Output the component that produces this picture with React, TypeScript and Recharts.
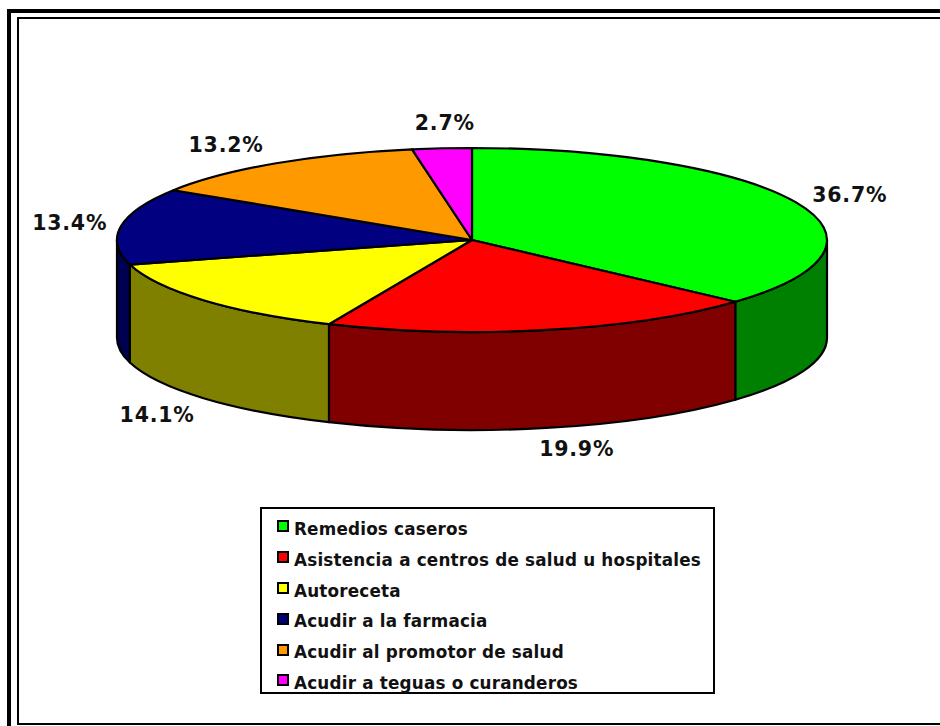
import React from "react";
import { PieChart, Pie, Legend } from "recharts";

const categories = [
  "Remedios caseros",
  "Asistencia a centros de salud u hospitales",
  "Autoreceta",
  "Acudir a la farmacia",
  "Acudir al promotor de salud",
  "Acudir a teguas o curanderos",
];
const values = [36.7, 19.9, 14.1, 13.4, 13.2, 2.7];
const topColors = ["#00FF00", "#FF0000", "#FFFF00", "#000080", "#FF9900", "#FF00FF"];
const wallColors = ["#008000", "#800000", "#808000", "#000050", "#804C00", "#800080"];
const labelNudges = [[-1.5, 0], [18, 1], [-1, 4], [8, 0], [-17, -2], [8, -5]];

const data = categories.map((name, i) => ({ name, value: values[i], fill: topColors[i], wall: wallColors[i], nudge: labelNudges[i] }));

const CX = 472;
const CY = 240;
const RX = 355;
const SQUASH = 92 / 355;
const DEPTH = 98;
const FONT = "'DejaVu Sans', Verdana, sans-serif";

// recharts angle (deg, counter-clockwise from 3 o'clock) -> point on the flattened rim
const rim = (cx: number, cy: number, r: number, a: number) => {
  const t = (a * Math.PI) / 180;
  return [cx + r * Math.cos(t), cy - r * SQUASH * Math.sin(t)];
};

const Slice3D = (props: any) => {
  const { cx, cy, outerRadius: r, startAngle, endAngle, fill, wall, payload } = props;
  const wallFill = wall ?? payload?.wall;
  const ry = r * SQUASH;
  const [x1, y1] = rim(cx, cy, r, startAngle);
  const [x2, y2] = rim(cx, cy, r, endAngle);
  const large = Math.abs(startAngle - endAngle) > 180 ? 1 : 0;
  const top = `M${cx},${cy} L${x1},${y1} A${r},${ry} 0 ${large} 1 ${x2},${y2} Z`;
  // the visible wall is the part of the slice in the front half: angles 0 to -180
  const a = Math.min(startAngle, 0);
  const b = Math.max(endAngle, -180);
  let wallPath = null;
  if (a > b) {
    const [wx1, wy1] = rim(cx, cy, r, a);
    const [wx2, wy2] = rim(cx, cy, r, b);
    wallPath = `M${wx1},${wy1} A${r},${ry} 0 0 1 ${wx2},${wy2} L${wx2},${wy2 + DEPTH} A${r},${ry} 0 0 0 ${wx1},${wy1 + DEPTH} Z`;
  }
  return (
    <g>
      {wallPath && <path d={wallPath} fill={wallFill} stroke="#000" strokeWidth={2.2} strokeLinejoin="round" />}
      <path d={top} fill={fill} stroke="#000" strokeWidth={2.2} strokeLinejoin="round" />
    </g>
  );
};

const SliceLabel = (props: any) => {
  const { cx, cy, midAngle, value, payload } = props;
  const t = (midAngle * Math.PI) / 180;
  const sy = Math.sin(t);
  const n = payload?.nudge ?? [0, 0];
  const x = cx + 415 * Math.cos(t) + n[0];
  const y = cy - 112 * sy + (sy < 0 ? DEPTH : 0) + n[1];
  return (
    <text x={x} y={y} textAnchor="middle" dominantBaseline="central" fontFamily={FONT} fontWeight="bold" fontSize={20.5} letterSpacing={0.8} fill="#111">
      {`${value.toFixed(1)}%`}
    </text>
  );
};

const LegendBox = ({ payload }: any) => (
  <div style={{ boxSizing: "border-box", width: 455, height: 187, border: "2px solid #000", background: "#fff", paddingTop: 5, fontFamily: FONT, fontWeight: "bold", fontSize: 16.8, letterSpacing: 0.2, color: "#111" }}>
    {(payload ?? []).map((e: any) => (
      <div key={e.value} style={{ height: 30.8, lineHeight: "30.8px", display: "flex", alignItems: "center", paddingLeft: 15, whiteSpace: "nowrap" }}>
        <span style={{ boxSizing: "border-box", width: 12, height: 12, border: "2px solid #000", background: e.color, marginRight: 5, marginTop: -6 }} />
        <span>{e.value}</span>
      </div>
    ))}
  </div>
);

export default function App() {
  return (
    <div style={{ position: "absolute", left: 0, top: 0, width: 940, height: 726, overflow: "hidden", background: "#fff" }}>
      <div style={{ position: "absolute", left: 7, top: 9, width: 1000, height: 800, border: "4px solid #000", boxSizing: "border-box" }} />
      <div style={{ position: "absolute", left: 17, top: 17, width: 1000, height: 708, border: "2px solid #000", boxSizing: "border-box" }} />
      <div style={{ position: "absolute", left: 0, top: 0 }}>
        <PieChart width={940} height={726} margin={{ top: 0, right: 0, bottom: 0, left: 0 }}>
          <Pie
            data={data}
            dataKey="value"
            nameKey="name"
            cx={CX}
            cy={CY}
            innerRadius={0}
            outerRadius={RX}
            startAngle={90}
            endAngle={-270}
            isAnimationActive={false}
            shape={Slice3D}
            label={SliceLabel}
            labelLine={false}
          />
          <Legend content={LegendBox} itemSorter={null} wrapperStyle={{ position: "absolute", left: 260, top: 507, width: 455, height: 187, bottom: "auto" }} />
        </PieChart>
      </div>
    </div>
  );
}
